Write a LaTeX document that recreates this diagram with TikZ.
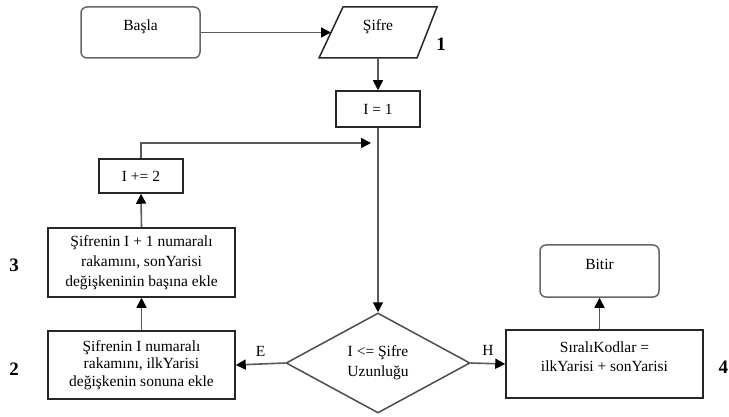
\documentclass[tikz,border=0pt]{standalone}
\usepackage{fontspec}
\setmainfont{Liberation Serif}
\usetikzlibrary{shapes.geometric,arrows.meta}

\begin{document}
\begin{tikzpicture}[x=1pt,y=-1pt,
  line width=1.6pt,
  every node/.style={font=\fontsize{15.5}{19}\selectfont, inner sep=0pt},
  edge/.style={draw=black!65, line width=1.6pt},
  arr/.style={edge, -{Triangle[length=10pt,width=10pt,color=black]}},
  procbox/.style={draw=black!85, line width=1.5pt, rectangle, align=center},
  termbox/.style={draw=black!60, line width=1.5pt, rectangle, rounded corners=6pt,
    minimum width=119pt, minimum height=51pt, text height=10pt, text depth=13pt},
  decbox/.style={draw=black!70, line width=1.5pt, diamond, align=center,
    minimum width=184pt, minimum height=100pt},
  tag/.style={font=\fontsize{19}{20}\selectfont\bfseries}
]
\useasboundingbox (0,0) rectangle (729,417);

% terminals
\node[termbox] (basla) at (140.5,32.5) {Başla};
\node[termbox, minimum height=52pt] (bitir) at (599.5,271) {Bitir};

% input parallelogram
\draw[draw=black!85, line width=1.5pt] (319,58) -- (343,7) -- (437,7) -- (417,58) -- cycle;
\node[text height=10pt, text depth=13pt] (sifre) at (378,32.5) {Şifre};
\coordinate (sifreW) at (331,32.5);
\coordinate (sifreS) at (378,58);
\node[tag] (t1) at (441,44) {1};

% process boxes
\node[procbox, minimum width=84pt, minimum height=36pt] (init) at (378,109) {I = 1};
\node[procbox, minimum width=84pt, minimum height=34pt] (inc) at (141,176) {I += 2};
\node[procbox, minimum width=187pt, minimum height=69pt,
  font=\fontsize{15.5}{20}\selectfont] (son) at (141.5,262.5)
  {Şifrenin I + 1 numaralı\\rakamını, sonYarisi\\değişkeninin başına ekle};
\node[procbox, minimum width=187pt, minimum height=68pt,
  font=\fontsize{15.5}{17.5}\selectfont] (ilk) at (141.5,365)
  {Şifrenin I numaralı\\rakamını, ilkYarisi\\değişkenin sonuna ekle};
\node[procbox, minimum width=197pt, minimum height=68pt] (sirali) at (604.5,364)
  {SıralıKodlar =\\ilkYarisi + sonYarisi\\[-4pt]};

% decision
\node[decbox, font=\fontsize{15.5}{20}\selectfont] (kosul) at (378,363)
  {I <= Şifre\\Uzunluğu};

% side numbers
\node[tag] (t3) at (14,265) {3};
\node[tag] (t2) at (14,369) {2};
\node[tag, anchor=east] (t4) at (729,367) {4};

% connectors
\draw[arr] (basla.east) -- (sifreW);
\draw[arr] (sifreS) -- (init.north);
\draw[arr] (init.south) -- (kosul.north);
\draw[arr] (kosul.west) -- (ilk.east) node[midway, above=7pt] (lE) {E};
\draw[arr] (kosul.east) -- (sirali.west) node[midway, above=7pt] (lH) {H};
\draw[arr] (ilk.north) -- (son.south);
\draw[arr] (son.north) -- (inc.south);
\coordinate (loopTop) at (141,143);
\coordinate (loopEnd) at (371,143);
\draw[arr] (inc.north) -- (loopTop) -- (loopEnd);
\draw[arr] (sirali.north -| bitir.south) -- (bitir.south);
\end{tikzpicture}
\end{document}
